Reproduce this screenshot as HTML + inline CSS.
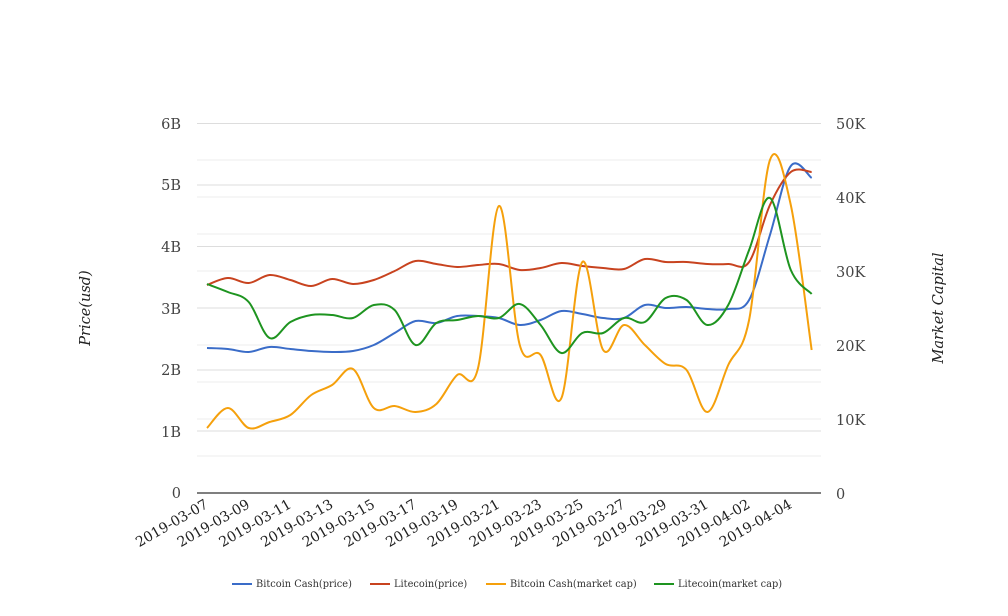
<!DOCTYPE html>
<html><head><meta charset="utf-8"><style>
body{margin:0;background:#fff;}
svg{display:block;font-family:"DejaVu Serif","Liberation Serif",serif;}
</style></head><body>
<svg id="s" width="1008" height="616" xmlns="http://www.w3.org/2000/svg">
<g stroke="#ddd" stroke-width="1">
<line x1="197" x2="821" y1="123.5" y2="123.5"/><line x1="197" x2="821" y1="185" y2="185"/><line x1="197" x2="821" y1="246.5" y2="246.5"/><line x1="197" x2="821" y1="308" y2="308"/><line x1="197" x2="821" y1="370" y2="370"/><line x1="197" x2="821" y1="431" y2="431"/>
<line x1="197" x2="821" y1="160" y2="160" stroke="#eee"/><line x1="197" x2="821" y1="197" y2="197" stroke="#eee"/><line x1="197" x2="821" y1="234" y2="234" stroke="#eee"/><line x1="197" x2="821" y1="271" y2="271" stroke="#eee"/><line x1="197" x2="821" y1="345" y2="345" stroke="#eee"/><line x1="197" x2="821" y1="382" y2="382" stroke="#eee"/><line x1="197" x2="821" y1="419" y2="419" stroke="#eee"/><line x1="197" x2="821" y1="456" y2="456" stroke="#eee"/>
</g>
<line x1="197" x2="821" y1="493" y2="493" stroke="#333" stroke-width="1.2"/>
<g font-size="14.5" fill="#444" text-anchor="end">
<text x="181" y="129">6B</text><text x="181" y="190">5B</text><text x="181" y="252">4B</text><text x="181" y="314">3B</text><text x="181" y="375">2B</text><text x="181" y="437">1B</text><text x="181" y="498">0</text>
</g>
<g font-size="14.5" fill="#444" text-anchor="start">
<text x="836" y="129">50K</text><text x="836" y="203">40K</text><text x="836" y="277">30K</text><text x="836" y="351">20K</text><text x="836" y="425">10K</text><text x="836" y="499">0</text>
</g>
<text transform="translate(90,308) rotate(-90)" font-size="14.5" font-style="italic" fill="#222" text-anchor="middle">Price(usd)</text>
<text transform="translate(943,308) rotate(-90)" font-size="14.5" font-style="italic" fill="#222" text-anchor="middle">Market Capital</text>
<g id="xl" font-size="14" fill="#222" text-anchor="end"></g>
<g id="lines" fill="none" stroke-width="2"></g>
<g font-size="9.8" fill="#333">
<line x1="232" x2="252" y1="584" y2="584" stroke="#3a6cc8" stroke-width="2"/><text x="256" y="587">Bitcoin Cash(price)</text>
<line x1="370" x2="390" y1="584" y2="584" stroke="#c8431f" stroke-width="2"/><text x="394" y="587">Litecoin(price)</text>
<line x1="486" x2="506" y1="584" y2="584" stroke="#f5a00c" stroke-width="2"/><text x="510" y="587">Bitcoin Cash(market cap)</text>
<line x1="654" x2="674" y1="584" y2="584" stroke="#1e9420" stroke-width="2"/><text x="678" y="587">Litecoin(market cap)</text>
</g>
</svg>
<script>
var NS="http://www.w3.org/2000/svg";
var dates=["2019-03-07","2019-03-09","2019-03-11","2019-03-13","2019-03-15","2019-03-17","2019-03-19","2019-03-21","2019-03-23","2019-03-25","2019-03-27","2019-03-29","2019-03-31","2019-04-02","2019-04-04"];
var xl=document.getElementById("xl");
dates.forEach(function(d,i){var x=207+41.7*i;var t=document.createElementNS(NS,"text");t.setAttribute("transform","translate("+(x+2)+",507) rotate(-30)");t.textContent=d;xl.appendChild(t);});
var S={
"#3a6cc8":[348,349,352,347,349,351,352,351,345,333,321,323,316,316,318,325,320,311,314,318,318,305,308,307,309,309,300,235,166,178],
"#c8431f":[285,278,283,275,280,286,279,284,280,271,261,264,267,265,264,270,268,263,266,268,269,259,262,262,264,264,262,205,172,172],
"#f5a00c":[428,408,428,422,415,395,385,369,408,406,412,404,375,368,206,345,355,398,262,350,325,345,364,370,412,365,320,160,205,350],
"#1e9420":[284,292,302,338,322,315,315,318,305,310,345,323,320,316,318,304,325,353,333,333,318,322,298,300,325,305,250,198,270,294]};
var g=document.getElementById("lines");
for(var c in S){var ys=S[c],p=ys.map(function(y,i){return [207+20.85*i,y];});
var d="M"+p[0][0]+","+p[0][1];
for(var i=0;i<p.length-1;i++){var p0=p[Math.max(i-1,0)],p1=p[i],p2=p[i+1],p3=p[Math.min(i+2,p.length-1)];
var t=0.17;d+=" C"+(p1[0]+(p2[0]-p0[0])*t)+","+(p1[1]+(p2[1]-p0[1])*t)+" "+(p2[0]-(p3[0]-p1[0])*t)+","+(p2[1]-(p3[1]-p1[1])*t)+" "+p2[0]+","+p2[1];}
var e=document.createElementNS(NS,"path");e.setAttribute("d",d);e.setAttribute("stroke",c);g.appendChild(e);}
</script>
</body></html>
